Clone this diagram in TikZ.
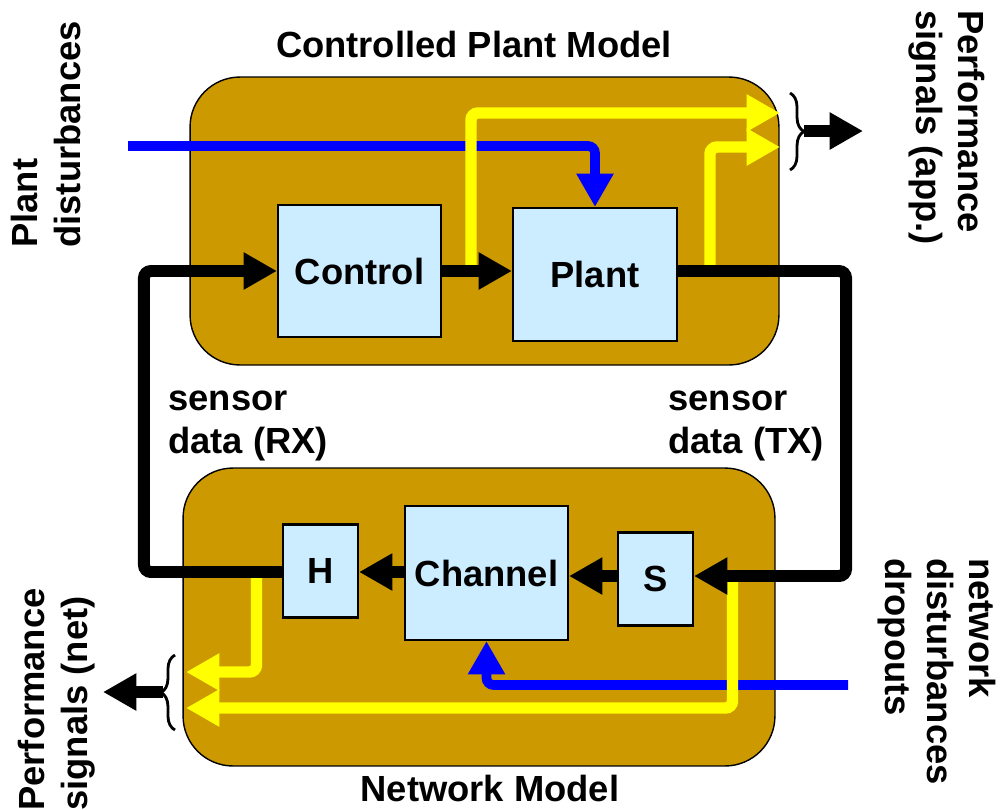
\documentclass[tikz,border=0pt]{standalone}
\usepackage{fontspec}
\setmainfont{Liberation Sans}
\usetikzlibrary{arrows.meta, calc, decorations.pathreplacing}
\definecolor{gold}{RGB}{204,153,0}
\definecolor{paleblue}{RGB}{204,236,255}
\definecolor{sigyellow}{RGB}{255,255,0}
\definecolor{distblue}{RGB}{0,0,255}

\begin{document}
\begin{tikzpicture}[x=0.02cm, y=-0.02cm,
  every node/.style={font=\fontsize{20.7}{24}\selectfont\bfseries, inner sep=0pt},
  modelbox/.style={draw=black, line width=0.8pt, fill=gold, rounded corners=1cm},
  blockbox/.style={draw=black, line width=1.2pt, fill=paleblue},
  blk/.style={draw=black, line width=6.8pt, rounded corners=4pt},
  yel/.style={draw=sigyellow, line width=6.5pt, rounded corners=4pt},
  blu/.style={draw=distblue, line width=5.5pt, rounded corners=4pt},
  tip/.style={-{Triangle[length=19pt,width=20pt]}},
  brc/.style={draw=black, decorate, decoration={brace, amplitude=8pt}, line width=1.6pt}]
  \useasboundingbox (0,0) rectangle (1003,809);
  % Model boxes
  \node[modelbox, minimum width=11.78cm, minimum height=5.76cm] (cpm) at (484.5,221) {};
  \node[modelbox, minimum width=11.84cm, minimum height=5.96cm] (netm) at (479,617) {};
  \node[anchor=base] (cpmlbl) at (474,57) {Controlled Plant Model};
  \node[anchor=base] (netmlbl) at (490,801) {Network Model};
  % Blocks
  \node[blockbox, minimum width=3.26cm, minimum height=2.64cm] (ctrl) at (359.5,271) {Control};
  \node[blockbox, minimum width=3.28cm, minimum height=2.66cm] (plant) at (595,274.5) {Plant};
  \node[blockbox, minimum width=1.5cm, minimum height=1.86cm] (hold) at (320.5,571) {H};
  \node[blockbox, minimum width=3.26cm, minimum height=2.68cm] (chan) at (486.5,573) {Channel};
  \node[blockbox, minimum width=1.5cm, minimum height=1.86cm] (samp) at (655.5,579) {S};
  % Disturbances
  \coordinate (pdin) at (128,146);
  \coordinate (ndin) at (848,685);
  \draw[blu, tip] (pdin) -| (plant.north);
  \draw[blu, tip] (ndin) -| (chan.south);
  % Performance signals
  \coordinate (ya) at (471,271);
  \coordinate (yb) at (710,271);
  \coordinate (yc) at (256.5,572);
  \coordinate (yd) at (732.5,576);
  \coordinate (appa) at (780,113);
  \coordinate (appb) at (780,147);
  \coordinate (neta) at (186,672);
  \coordinate (netb) at (186,708);
  \draw[yel, tip] (ya) |- (appa);
  \draw[yel, tip] (yb) |- (appb);
  \draw[yel, tip] (yc) |- (neta);
  \draw[yel, tip] (yd) |- (netb);
  % Loop
  \draw[blk, tip] (ctrl.east) -- (ctrl.east -| plant.west);
  \draw[blk, tip] (plant.east |- ctrl.east) -- ++(168,0) |- (samp.east |- yd);
  \draw[blk, tip] (samp.west |- yd) -- (chan.east |- yd);
  \draw[blk, tip] (chan.west |- yc) -- (hold.east |- yc);
  \draw[blk, tip] (hold.west |- yc) -- ++(-138,0) |- (ctrl.west |- ya);
  % Braces
  \draw[brc] (790,93) -- (790,170);
  \draw[brc] (175,730) -- (175,655);
  \coordinate (appbr) at (804,131);
  \coordinate (appout) at (863,131);
  \coordinate (netbr) at (163,692);
  \coordinate (netout) at (103,692);
  \draw[blk, tip] (appbr) -- (appout);
  \draw[blk, tip] (netbr) -- (netout);
  % Labels
  \node[anchor=base west, align=left] (rxlbl) at (168,453) {sensor\\data (RX)};
  \node[anchor=base west, align=left] (txlbl) at (668,453) {sensor\\data (TX)};
  \node[rotate=90, anchor=base west, align=left] (pdlbl) at (80,248) {Plant\\disturbances};
  \node[rotate=90, anchor=base west, align=left] (pnlbl) at (87,811) {Performance\\signals (net)};
  \node[rotate=-90, anchor=base west, align=left] (palbl) at (916,10) {Performance\\signals (app.)};
  \node[rotate=-90, anchor=base west, align=left] (ndlbl) at (885,558) {network\\disturbances\\dropouts};
\end{tikzpicture}
\end{document}
